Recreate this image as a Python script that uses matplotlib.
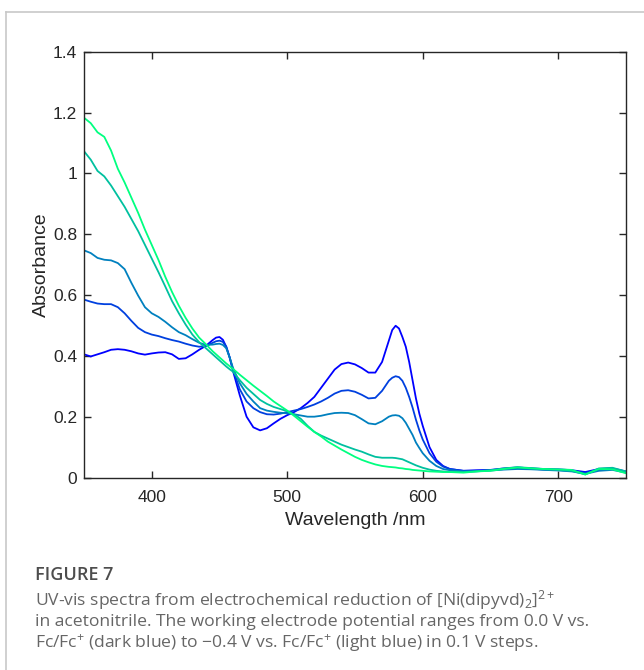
import numpy as np
import matplotlib
matplotlib.use("Agg")
import matplotlib.pyplot as plt
from matplotlib.lines import Line2D
from matplotlib.ticker import FormatStrFormatter

# wavelength grid (nm) shared by all spectra, denser around the peaks
wl = [350, 355, 360, 365, 370, 375, 380, 385, 390, 395,
      400, 405, 410, 415, 420, 425, 430, 435, 440, 445,
      447.5, 450, 452.5, 455, 457.5, 460,
      465, 470, 475, 480, 485, 490, 495, 500, 505, 510,
      515, 520, 525, 530, 535, 540, 545, 550, 555, 560,
      565, 570, 575,
      577.5, 580, 582.5, 585, 587.5, 590, 592.5, 595, 597.5, 600,
      605, 610, 615, 620,
      630, 640, 650, 660, 670, 680, 690, 700, 710, 720, 730, 740, 750]

# 0.0 V vs Fc/Fc+
abs_00 = [0.405, 0.398, 0.405, 0.412, 0.420, 0.422, 0.420, 0.415, 0.408, 0.404,
          0.408, 0.411, 0.412, 0.405, 0.390, 0.392, 0.405, 0.420, 0.433, 0.452,
          0.460, 0.462, 0.453, 0.430, 0.395, 0.350,
          0.270, 0.200, 0.165, 0.155, 0.162, 0.178, 0.193, 0.205, 0.215, 0.228,
          0.245, 0.265, 0.295, 0.325, 0.355, 0.373, 0.378, 0.372, 0.360, 0.345,
          0.345, 0.380, 0.450,
          0.485, 0.499, 0.490, 0.462, 0.430, 0.380, 0.320, 0.260, 0.210, 0.170,
          0.100, 0.058, 0.038, 0.028,
          0.022, 0.024, 0.025, 0.030, 0.033, 0.030, 0.028, 0.027, 0.024, 0.018, 0.028, 0.030, 0.020]

# -0.1 V
abs_01 = [0.585, 0.578, 0.572, 0.570, 0.570, 0.560, 0.540, 0.515, 0.492, 0.478,
          0.470, 0.465, 0.458, 0.452, 0.447, 0.440, 0.434, 0.430, 0.432, 0.443,
          0.448, 0.450, 0.446, 0.430, 0.395, 0.355,
          0.290, 0.250, 0.228, 0.215, 0.208, 0.207, 0.210, 0.215, 0.220, 0.225,
          0.232, 0.240, 0.250, 0.262, 0.276, 0.285, 0.287, 0.282, 0.272, 0.260,
          0.262, 0.285, 0.318,
          0.328, 0.333, 0.330, 0.318, 0.295, 0.265, 0.230, 0.190, 0.155, 0.125,
          0.080, 0.052, 0.036, 0.028,
          0.022, 0.022, 0.024, 0.028, 0.031, 0.029, 0.026, 0.025, 0.022, 0.015, 0.025, 0.028, 0.018]

# -0.2 V
abs_02 = [0.747, 0.738, 0.722, 0.716, 0.714, 0.705, 0.685, 0.640, 0.598, 0.560,
          0.540, 0.528, 0.512, 0.494, 0.478, 0.468, 0.455, 0.443, 0.436, 0.437,
          0.439, 0.440, 0.436, 0.425, 0.395, 0.360,
          0.310, 0.275, 0.250, 0.228, 0.220, 0.216, 0.213, 0.211, 0.208, 0.204,
          0.200, 0.200, 0.203, 0.208, 0.212, 0.213, 0.212, 0.205, 0.192, 0.178,
          0.175, 0.185, 0.200,
          0.204, 0.205, 0.203, 0.195, 0.180, 0.160, 0.140, 0.115, 0.097, 0.080,
          0.055, 0.038, 0.028, 0.024,
          0.020, 0.021, 0.023, 0.026, 0.028, 0.027, 0.025, 0.023, 0.020, 0.012, 0.022, 0.025, 0.016]

# -0.3 V
abs_03 = [1.073, 1.045, 1.008, 0.990, 0.960, 0.925, 0.890, 0.850, 0.810, 0.765,
          0.720, 0.675, 0.628, 0.580, 0.540, 0.503, 0.470, 0.445, 0.425, 0.405,
          0.395, 0.385, 0.375, 0.365, 0.356, 0.348,
          0.320, 0.295, 0.275, 0.255, 0.242, 0.232, 0.225, 0.218, 0.208, 0.193,
          0.170, 0.150, 0.138, 0.128, 0.118, 0.108, 0.100, 0.092, 0.085, 0.076,
          0.068, 0.065, 0.065,
          0.065, 0.064, 0.062, 0.060, 0.055, 0.050, 0.045, 0.040, 0.036, 0.032,
          0.026, 0.022, 0.020, 0.018,
          0.018, 0.020, 0.024, 0.030, 0.034, 0.031, 0.027, 0.025, 0.022, 0.010, 0.030, 0.032, 0.020]

# -0.4 V
abs_04 = [1.183, 1.165, 1.135, 1.120, 1.075, 1.015, 0.970, 0.920, 0.870, 0.815,
          0.765, 0.715, 0.660, 0.610, 0.565, 0.525, 0.490, 0.460, 0.438, 0.415,
          0.405, 0.395, 0.385, 0.375, 0.366, 0.357,
          0.338, 0.320, 0.302, 0.285, 0.268, 0.250, 0.235, 0.220, 0.203, 0.185,
          0.167, 0.150, 0.135, 0.118, 0.105, 0.092, 0.080, 0.068, 0.058, 0.050,
          0.043, 0.038, 0.035,
          0.034, 0.033, 0.031, 0.030, 0.028, 0.027, 0.025, 0.024, 0.023, 0.022,
          0.020, 0.019, 0.018, 0.018,
          0.016, 0.020, 0.022, 0.028, 0.033, 0.030, 0.028, 0.027, 0.025, 0.010, 0.028, 0.027, 0.014]

spectra = [abs_00, abs_01, abs_02, abs_03, abs_04]
xticks = [400, 500, 600, 700]
yticks = [0, 0.2, 0.4, 0.6, 0.8, 1.0, 1.2, 1.4]

plt.rcParams['font.family'] = ['Liberation Sans', 'DejaVu Sans']
plt.rcParams['mathtext.fontset'] = 'custom'
plt.rcParams['mathtext.rm'] = 'Open Sans'
plt.rcParams['mathtext.it'] = 'Open Sans'

fig = plt.figure(figsize=(6.44, 6.70), dpi=100)
ax = fig.add_axes([0.1304, 0.2873, 0.8416, 0.6355])

# MATLAB "winter" colours
cmap = plt.get_cmap('winter')
cols = [cmap(i / 4) for i in range(5)]
for y, c in zip(spectra, cols):
    ax.plot(wl, y, color=c, lw=1.3)

ax.set_xlim(350, 750)
ax.set_ylim(0, 1.4)
ax.set_xticks(xticks)
ax.set_yticks(yticks)
ax.yaxis.set_major_formatter(FormatStrFormatter('%g'))
txtc = '#262626'
ax.tick_params(direction='in', top=True, right=True, length=5, width=1,
               colors=txtc, labelsize=12.5, pad=5)
ax.tick_params(axis='x', pad=9)
for s in ax.spines.values():
    s.set_color(txtc)
    s.set_linewidth(1)
ax.set_xlabel('Wavelength /nm', fontsize=14, color=txtc, labelpad=5)
ax.set_ylabel('Absorbance', fontsize=14, color=txtc, labelpad=2)

# page frame
fc = '#c8c8c8'
fig.add_artist(Line2D([6 / 644, 1], [1 - 12 / 670, 1 - 12 / 670], color=fc, lw=1.2))
fig.add_artist(Line2D([6 / 644, 6 / 644], [0, 1 - 12 / 670], color=fc, lw=1.2))

# caption
cap = ['Open Sans', 'DejaVu Sans']
fig.text(35 / 644, 1 - 575 / 670, 'FIGURE 7', fontsize=13, color='#4d4d4d',
         family=cap, weight='semibold', va='center')
lines = [r'UV-vis spectra from electrochemical reduction of [Ni(dipyvd)$_2$]$^{2+}$',
         'in acetonitrile. The working electrode potential ranges from 0.0 V vs.',
         'Fc/Fc$^{+}$ (dark blue) to \u22120.4 V vs. Fc/Fc$^{+}$ (light blue) in 0.1 V steps.']
for i, t in enumerate(lines):
    fig.text(35 / 644, 1 - (600 + 21.5 * i) / 670, t, fontsize=12.6, color='#666666',
             family=cap, va='center')

fig.savefig('out.png', dpi=100)
